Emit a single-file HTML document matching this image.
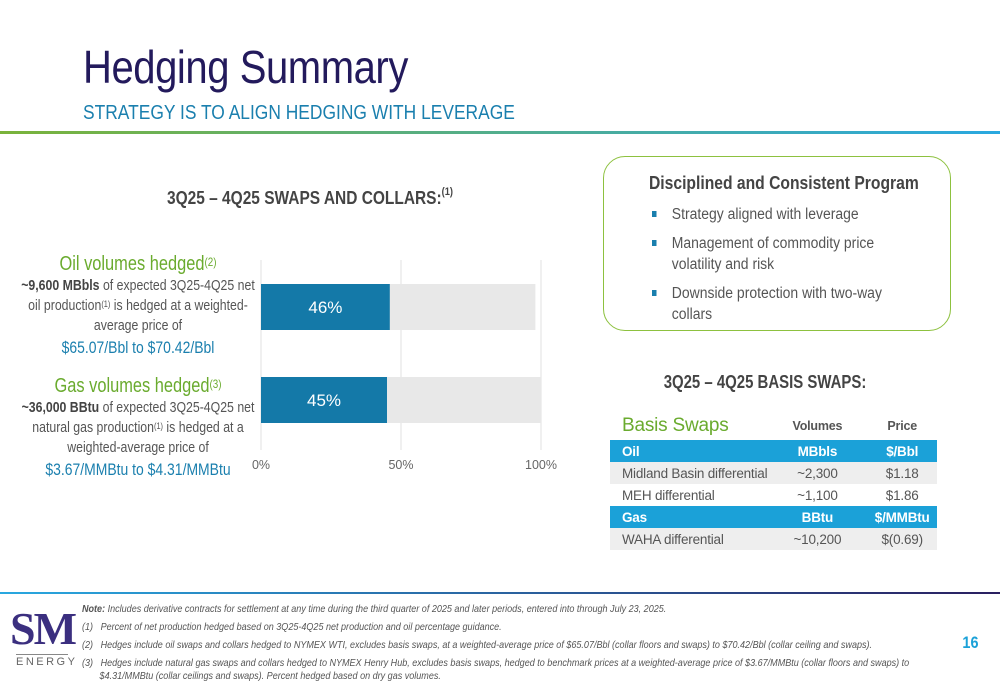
<!DOCTYPE html>
<html><head><meta charset="utf-8"><style>
*{margin:0;padding:0;box-sizing:border-box}
body{width:1000px;height:685px;background:#fff;position:relative;overflow:hidden;font-family:"Liberation Sans",sans-serif;color:#555}
.a{position:absolute;white-space:nowrap}
.nl{transform:scaleX(.87);transform-origin:left top}
.nc{transform:scaleX(.86);transform-origin:center top}
sup{font-size:60%;vertical-align:top;position:relative;top:-2px}
.c{text-align:center}
table{border-collapse:collapse}
</style></head><body>
<div class="a nl" style="left:83px;top:40px;font-size:46px;color:#231a5c;letter-spacing:-0.5px">Hedging Summary</div>
<div class="a nl" style="left:83px;top:102px;font-size:20px;color:#1a7fae">STRATEGY IS TO ALIGN HEDGING WITH LEVERAGE</div>
<div class="a" style="left:0;top:131px;width:1000px;height:3px;background:linear-gradient(90deg,#7ab33a,#29a8e0)"></div>

<div class="a c nc" style="left:140px;top:188px;width:340px;font-size:18px;font-weight:bold;color:#444">3Q25 – 4Q25 SWAPS AND COLLARS:<sup>(1)</sup></div>

<div class="a c" style="left:-12px;top:252px;width:300px;font-size:15px;line-height:20px;transform:scaleX(.82);transform-origin:center top">
<div style="font-size:20px;color:#6aab2e;line-height:24px">Oil volumes hedged<sup>(2)</sup></div>
<div><b style="color:#444">~9,600 MBbls</b> of expected 3Q25-4Q25 net<br>oil production<sup>(1)</sup> is hedged at a weighted-<br>average price of</div>
<div style="font-size:17px;color:#1a7fae;line-height:24px">$65.07/Bbl to $70.42/Bbl</div></div>
<div class="a c" style="left:-12px;top:374px;width:300px;font-size:15px;line-height:20px;transform:scaleX(.82);transform-origin:center top">
<div style="font-size:20px;color:#6aab2e;line-height:24px">Gas volumes hedged<sup>(3)</sup></div>
<div><b style="color:#444">~36,000 BBtu</b> of expected 3Q25-4Q25 net<br>natural gas production<sup>(1)</sup> is hedged at a<br>weighted-average price of</div>
<div style="font-size:17px;color:#1a7fae;line-height:24px">$3.67/MMBtu to $4.31/MMBtu</div></div>

<svg class="a" style="left:0;top:0" width="600" height="480" id="chart"></svg>

<div class="a" style="left:603px;top:156px;width:348px;height:175px;border:1.5px solid #8dc13f;border-radius:22px"></div>
<div class="a nl" style="left:649px;top:173px;font-size:18px;font-weight:bold;color:#444">Disciplined and Consistent Program</div>
<div class="a nl" style="left:652px;top:204px;font-size:15.5px;line-height:21px;color:#555;transform:scaleX(.9)">
<div style="position:relative;padding-left:22px;margin-bottom:8px"><span style="position:absolute;left:0;top:7px;width:5px;height:6px;background:#1a7fae"></span>Strategy aligned with leverage</div>
<div style="position:relative;padding-left:22px;margin-bottom:8px"><span style="position:absolute;left:0;top:7px;width:5px;height:6px;background:#1a7fae"></span>Management of commodity price<br>volatility and risk</div>
<div style="position:relative;padding-left:22px"><span style="position:absolute;left:0;top:7px;width:5px;height:6px;background:#1a7fae"></span>Downside protection with two-way<br>collars</div></div>

<div class="a c" style="left:615px;top:372px;width:300px;font-size:18px;font-weight:bold;color:#444;transform:scaleX(.83)">3Q25 – 4Q25 BASIS SWAPS:</div>
<div class="a" style="left:610px;top:412px;font-size:13.5px;letter-spacing:-0.2px">
<table style="width:327px">
<tr style="height:28px"><td style="color:#6aab2e;font-size:19px;padding-left:12px;width:150px">Basis Swaps</td><td class="c" style="font-weight:bold;color:#555;font-size:12.5px;width:100px">Volumes</td><td class="c" style="font-weight:bold;color:#555;font-size:12.5px">Price</td></tr>
<tr style="height:22px;background:#1ba1d8;color:#fff;font-weight:bold"><td style="padding-left:12px">Oil</td><td class="c">MBbls</td><td class="c">$/Bbl</td></tr>
<tr style="height:22px;background:#eeeeee"><td style="padding-left:12px">Midland Basin differential</td><td class="c">~2,300</td><td class="c">$1.18</td></tr>
<tr style="height:22px"><td style="padding-left:12px">MEH differential</td><td class="c">~1,100</td><td class="c">$1.86</td></tr>
<tr style="height:22px;background:#1ba1d8;color:#fff;font-weight:bold"><td style="padding-left:12px">Gas</td><td class="c">BBtu</td><td class="c">$/MMBtu</td></tr>
<tr style="height:22px;background:#eeeeee"><td style="padding-left:12px">WAHA differential</td><td class="c">~10,200</td><td class="c">$(0.69)</td></tr>
</table></div>

<div class="a" style="left:0;top:592px;width:1000px;height:2px;background:linear-gradient(90deg,#29a8e0,#2a1f60)"></div>
<div class="a" style="left:10px;top:606px;width:64px;text-align:center">
<div style="font-family:'Liberation Serif',serif;font-weight:bold;font-size:46px;color:#3b2f7f;line-height:46px;letter-spacing:-2px">SM</div>
<div style="border-top:1px solid #888;margin:2px 6px 0;font-size:11px;letter-spacing:2.5px;color:#666;line-height:14px">ENERGY</div></div>
<div class="a" style="left:82px;top:600px;font-size:10.5px;font-style:italic;color:#555;line-height:18px;transform:scaleX(.86);transform-origin:left top">
<div><b>Note:</b> Includes derivative contracts for settlement at any time during the third quarter of 2025 and later periods, entered into through July 23, 2025.</div>
<div>(1)&nbsp;&nbsp;&nbsp;Percent of net production hedged based on 3Q25-4Q25 net production and oil percentage guidance.</div>
<div>(2)&nbsp;&nbsp;&nbsp;Hedges include oil swaps and collars hedged to NYMEX WTI, excludes basis swaps, at a weighted-average price of $65.07/Bbl (collar floors and swaps) to $70.42/Bbl (collar ceiling and swaps).</div>
<div style="line-height:13px;margin-top:3px">(3)&nbsp;&nbsp;&nbsp;Hedges include natural gas swaps and collars hedged to NYMEX Henry Hub, excludes basis swaps, hedged to benchmark prices at a weighted-average price of $3.67/MMBtu (collar floors and swaps) to<br>&nbsp;&nbsp;&nbsp;&nbsp;&nbsp;&nbsp;&nbsp;$4.31/MMBtu (collar ceilings and swaps). Percent hedged based on dry gas volumes.</div></div>
<div class="a" style="left:961px;top:633px;font-size:17px;font-weight:bold;color:#1ba1d8;transform:scaleX(.85)">16</div>

<script>
const categories=["Oil","Gas"];
const hedged=[46,45];
const totals=[98,100];
const ticks=[0,50,100];
const svg=document.getElementById('chart');
const NS='http://www.w3.org/2000/svg';
const x=v=>261+v*2.8;
const bandTop=i=>284+i*93;
const bandH=46;
function mk(t,a){const e=document.createElementNS(NS,t);for(const k in a)e.setAttribute(k,a[k]);svg.appendChild(e);return e;}
ticks.forEach(t=>{
 const l=mk('line',{x1:x(t),x2:x(t),y1:260,y2:450,stroke:'#e2e2e2','stroke-width':1});
 
 
 const tx=mk('text',{x:x(t),y:469,'text-anchor':'middle','font-size':12.5,fill:'#666','font-family':'Liberation Sans, sans-serif'});
 tx.textContent=t+'%';
 
 
});
categories.forEach((c,i)=>{
 const bg=mk('rect',{x:x(0),y:bandTop(i),width:x(totals[i])-x(0),height:bandH,fill:'#e8e8e8'});
 
 
 const b=mk('rect',{x:x(0),y:bandTop(i),width:x(hedged[i])-x(0),height:bandH,fill:'#1479a8'});
 
 
 const t=mk('text',{x:(x(0)+x(hedged[i]))/2,y:bandTop(i)+bandH/2+6,'text-anchor':'middle','font-size':17,fill:'#fff','font-family':'Liberation Sans, sans-serif'});
 t.textContent=hedged[i]+'%';
 
 
});
</script>
</body></html>
